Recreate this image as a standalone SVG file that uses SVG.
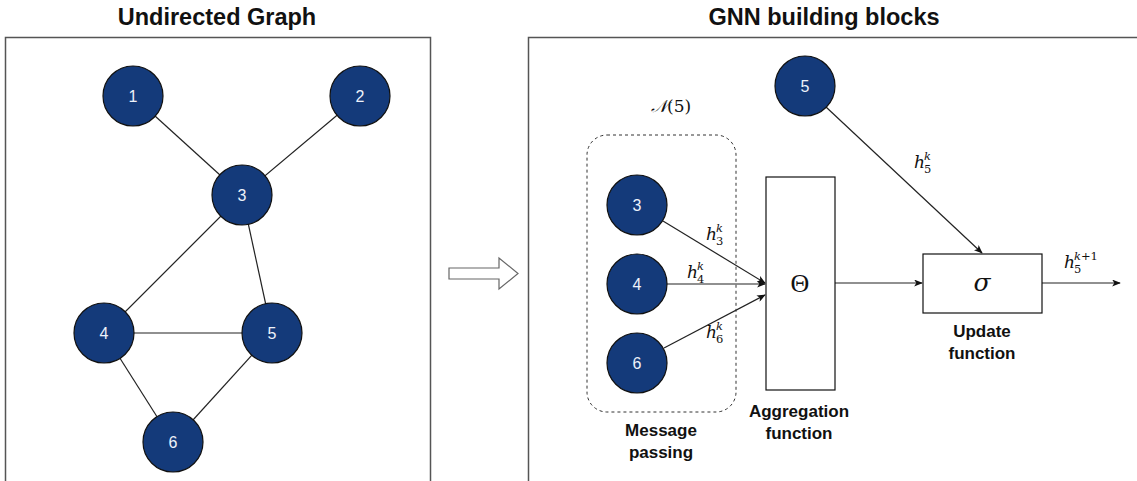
<svg xmlns="http://www.w3.org/2000/svg" width="1137" height="481" viewBox="0 0 1137 481">
  <style>
    .panel { fill: #ffffff; stroke: #555555; stroke-width: 1.5; }
    .title { font-family: "Liberation Sans", Arial, sans-serif; font-weight: bold; font-size: 23.5px; fill: #111111; text-anchor: middle; }
    .node circle { fill: #143a7a; stroke: #111111; stroke-width: 1.2; }
    .node text { font-family: "Liberation Sans", Arial, sans-serif; font-size: 16px; fill: #eef2fa; text-anchor: middle; }
    .edge { stroke: #222222; stroke-width: 1.2; fill: none; }
    .arrow { stroke: #222222; stroke-width: 1.2; fill: none; marker-end: url(#head); }
    .box { fill: #ffffff; stroke: #111111; stroke-width: 1.2; }
    .caption { font-family: "Liberation Sans", Arial, sans-serif; font-weight: bold; font-size: 17px; fill: #111111; text-anchor: middle; }
    .math { font-family: "DejaVu Serif", "Liberation Serif", serif; fill: #111111; }
    .mi { font-style: italic; }
  </style>
  <defs>
    <marker id="head" viewBox="0 0 10 8" refX="9" refY="4" markerWidth="9" markerHeight="7" markerUnits="userSpaceOnUse" orient="auto">
      <path d="M0,0 L10,4 L0,8 L2.5,4 z" fill="#111111"/>
    </marker>
  </defs>

  <rect width="1137" height="481" fill="#ffffff"/>

  <!-- titles -->
  <text class="title" x="217" y="25">Undirected Graph</text>
  <text class="title" x="824" y="25">GNN building blocks</text>

  <!-- panels -->
  <rect class="panel" x="5.5" y="37.5" width="425" height="460"/>
  <rect class="panel" x="528.5" y="37.5" width="620" height="460"/>

  <!-- block arrow between panels -->
  <polygon points="449,268 499,268 499,258 518,273.5 499,289 499,279 449,279" fill="#ffffff" stroke="#666666" stroke-width="1.2"/>

  <!-- connectors -->
  <g id="connectors">
    <line class="edge" x1="133" y1="96" x2="242" y2="195"/>
    <line class="edge" x1="360" y1="96" x2="242" y2="195"/>
    <line class="edge" x1="242" y1="195" x2="104" y2="333"/>
    <line class="edge" x1="242" y1="195" x2="272" y2="333"/>
    <line class="edge" x1="104" y1="333" x2="272" y2="333"/>
    <line class="edge" x1="104" y1="333" x2="173" y2="442"/>
    <line class="edge" x1="272" y1="333" x2="173" y2="442"/>

    <line class="arrow" x1="663" y1="221" x2="765" y2="283"/>
    <line class="arrow" x1="667" y1="284" x2="765" y2="284"/>
    <line class="arrow" x1="664" y1="348" x2="765" y2="295"/>
    <line class="arrow" x1="835" y1="283" x2="922" y2="283"/>
    <line class="arrow" x1="826" y1="107" x2="982" y2="253"/>
    <line class="arrow" x1="1042" y1="283" x2="1120" y2="283"/>
  </g>

  <!-- neighbourhood boundary -->
  <rect x="587" y="135" width="149" height="277" rx="20" ry="20" fill="none" stroke="#333333" stroke-width="1" stroke-dasharray="3,3"/>

  <!-- graph nodes -->
  <g id="g-node-1" class="node"><circle cx="133" cy="96" r="30"/><text x="133" y="102">1</text></g>
  <g id="g-node-2" class="node"><circle cx="360" cy="96" r="30"/><text x="360" y="102">2</text></g>
  <g id="g-node-3" class="node"><circle cx="242" cy="195" r="30"/><text x="242" y="201">3</text></g>
  <g id="g-node-4" class="node"><circle cx="104" cy="333" r="30"/><text x="104" y="339">4</text></g>
  <g id="g-node-5" class="node"><circle cx="272" cy="333" r="30"/><text x="272" y="339">5</text></g>
  <g id="g-node-6" class="node"><circle cx="173" cy="442" r="30"/><text x="173" y="448">6</text></g>

  <!-- building block nodes -->
  <g id="b-node-5" class="node"><circle cx="805" cy="86" r="30"/><text x="805" y="92">5</text></g>
  <g id="b-node-3" class="node"><circle cx="637" cy="205" r="30"/><text x="637" y="211">3</text></g>
  <g id="b-node-4" class="node"><circle cx="637" cy="284" r="30"/><text x="637" y="290">4</text></g>
  <g id="b-node-6" class="node"><circle cx="637" cy="363" r="30"/><text x="637" y="369">6</text></g>

  <!-- aggregation block -->
  <g id="aggregation">
    <rect class="box" x="766" y="177" width="69" height="213"/>
    <text x="800" y="292" font-family="Liberation Serif, serif" font-size="26" fill="#111111" text-anchor="middle">Θ</text>
    <text class="caption" x="799" y="417">Aggregation</text>
    <text class="caption" x="799" y="439">function</text>
  </g>

  <!-- update block -->
  <g id="update">
    <rect class="box" x="923" y="254" width="119" height="59"/>
    <text class="math mi" x="982" y="291" font-size="25" text-anchor="middle">σ</text>
    <text class="caption" x="982" y="337">Update</text>
    <text class="caption" x="982" y="359">function</text>
  </g>

  <!-- message passing caption -->
  <text class="caption" x="661" y="436">Message</text>
  <text class="caption" x="661" y="458">passing</text>

  <!-- neighbourhood label -->
  <text class="math" x="651" y="112" font-size="17"><tspan class="mi">𝒩</tspan>(5)</text>

  <!-- message labels -->
  <g class="math">
    <text class="mi" x="706" y="240" font-size="17">h</text>
    <text class="mi" x="716" y="232" font-size="11.5">k</text>
    <text x="716" y="245" font-size="11.5">3</text>

    <text class="mi" x="687" y="278" font-size="17">h</text>
    <text class="mi" x="697" y="270" font-size="11.5">k</text>
    <text x="697" y="283" font-size="11.5">4</text>

    <text class="mi" x="706" y="338" font-size="17">h</text>
    <text class="mi" x="716" y="330" font-size="11.5">k</text>
    <text x="716" y="343" font-size="11.5">6</text>

    <text class="mi" x="914" y="168" font-size="17">h</text>
    <text class="mi" x="924" y="160" font-size="11.5">k</text>
    <text x="924" y="173" font-size="11.5">5</text>

    <text class="mi" x="1064" y="268" font-size="17">h</text>
    <text x="1074" y="260" font-size="11.5"><tspan class="mi">k</tspan>+1</text>
    <text x="1074" y="273" font-size="11.5">5</text>
  </g>
</svg>
